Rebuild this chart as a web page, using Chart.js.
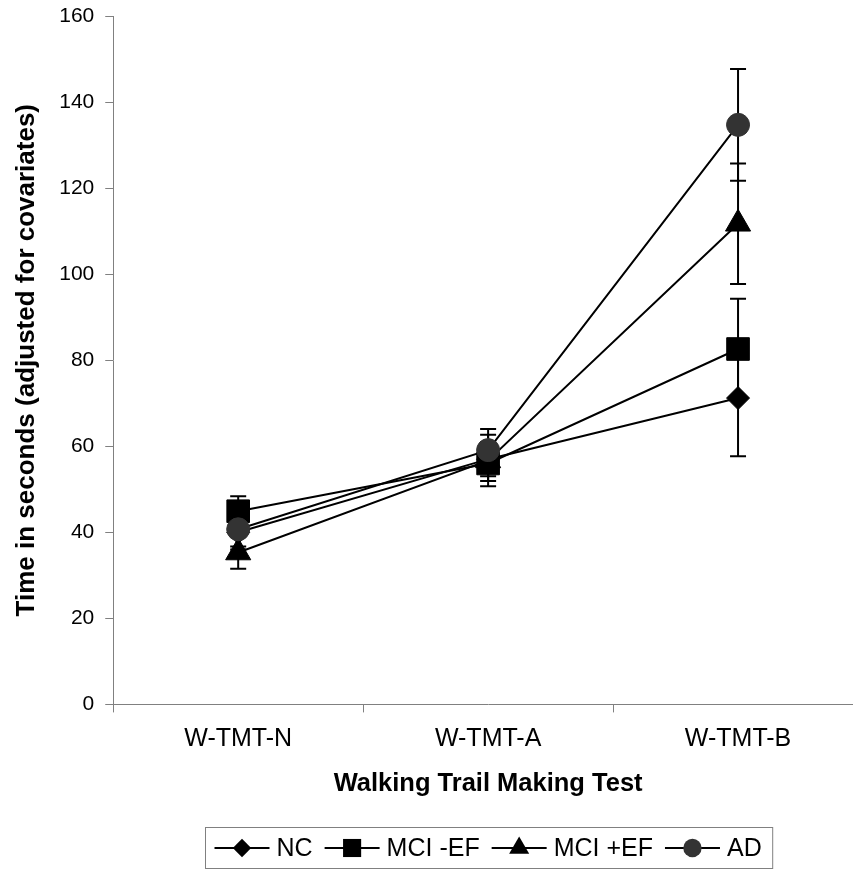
<!DOCTYPE html>
<html lang="en">
<head>
    <meta charset="UTF-8">
    <title>Walking Trail Making Test</title>
    <script src="https://cdn.jsdelivr.net/npm/chart.js"></script>
    <style>
        body { margin: 0; padding: 0; background: #fff; overflow: hidden; }
        #wrap { width: 870px; height: 869px; }
    </style>
</head>
<body>
    <div id="wrap">
        <canvas id="chart" width="870" height="869"></canvas>
    </div>

    <script>
        let categories = ["W-TMT-N", "W-TMT-A", "W-TMT-B"];
        let yTicks = [0, 20, 40, 60, 80, 100, 120, 140, 160];

        let seriesNames = ["NC", "MCI -EF", "MCI +EF", "AD"];
        let ncValues = [40, 57, 71.2];
        let ncErrors = [4, 4, 13.5];
        let mciNoEfValues = [44.9, 56, 82.6];
        let mciNoEfErrors = [3.5, 4.1, 11.7];
        let mciEfValues = [35.3, 56.7, 111.7];
        let mciEfErrors = [3.8, 6, 14];
        let adValues = [40.7, 59.1, 134.7];
        let adErrors = [4, 4.9, 13];

        const FONT = "'Liberation Sans', Arial, sans-serif";
        const AXIS_GREY = "#808080";

        // marker look per series (same order as seriesNames)
        const markers = [
            { style: "rectRot", radius: 11.5, color: "#000" },
            { style: "rect", radius: 16, color: "#000" },
            { style: "triangle", radius: 14.5, color: "#000" },
            { style: "circle", radius: 11.5, color: "#333333" }
        ];

        let allValues = [ncValues, mciNoEfValues, mciEfValues, adValues];
        let allErrors = [ncErrors, mciNoEfErrors, mciEfErrors, adErrors];

        // error bars drawn under the markers
        const errorBars = {
            id: "errorBars",
            beforeDatasetsDraw(chart) {
                const ctx = chart.ctx;
                const yScale = chart.scales.y;
                ctx.save();
                ctx.strokeStyle = "#000";
                ctx.lineWidth = 2;
                chart.data.datasets.forEach((ds, di) => {
                    const meta = chart.getDatasetMeta(di);
                    ds.data.forEach((v, i) => {
                        const e = ds.errors[i];
                        const x = meta.data[i].x;
                        const top = yScale.getPixelForValue(v + e);
                        const bot = yScale.getPixelForValue(v - e);
                        ctx.beginPath();
                        ctx.moveTo(x, top); ctx.lineTo(x, bot);
                        ctx.moveTo(x - 8, top); ctx.lineTo(x + 8, top);
                        ctx.moveTo(x - 8, bot); ctx.lineTo(x + 8, bot);
                        ctx.stroke();
                    });
                });
                ctx.restore();
            }
        };

        function drawMarker(ctx, style, x, y, r, color) {
            ctx.fillStyle = color;
            ctx.beginPath();
            if (style === "rectRot") {
                ctx.moveTo(x, y - r); ctx.lineTo(x + r, y); ctx.lineTo(x, y + r); ctx.lineTo(x - r, y);
            } else if (style === "rect") {
                let s = r * Math.SQRT1_2;
                ctx.rect(x - s, y - s, 2 * s, 2 * s);
            } else if (style === "triangle") {
                ctx.moveTo(x, y - r);
                ctx.lineTo(x + r * 0.866, y + r / 2);
                ctx.lineTo(x - r * 0.866, y + r / 2);
            } else {
                ctx.arc(x, y, r, 0, Math.PI * 2);
            }
            ctx.closePath();
            ctx.fill();
        }

        // boxed legend with line-through-marker symbols
        const boxLegend = {
            id: "boxLegend",
            afterDraw(chart) {
                const ctx = chart.ctx;
                const area = chart.chartArea;
                ctx.save();
                ctx.font = "25px " + FONT;
                const lineLen = 55, textGap = 7, itemGap = 12, padL = 9, padR = 11;
                let total = padL + padR;
                seriesNames.forEach((n, i) => {
                    total += lineLen + textGap + ctx.measureText(n).width;
                    if (i < seriesNames.length - 1) total += itemGap;
                });
                const left = Math.round((area.left + area.right) / 2 - total / 2) + 0.5;
                const top = 827.5, height = 41;
                ctx.strokeStyle = AXIS_GREY;
                ctx.lineWidth = 1;
                ctx.strokeRect(left, top, total, height);

                const cy = top + height / 2;
                let x = left + padL;
                seriesNames.forEach((n, i) => {
                    ctx.strokeStyle = "#000";
                    ctx.lineWidth = 2;
                    ctx.beginPath();
                    ctx.moveTo(x, cy); ctx.lineTo(x + lineLen, cy);
                    ctx.stroke();
                    const m = markers[i];
                    drawMarker(ctx, m.style, x + lineLen / 2, cy, m.radius * 0.8, m.color);
                    x += lineLen + textGap;
                    ctx.fillStyle = "#000";
                    ctx.textBaseline = "middle";
                    ctx.textAlign = "left";
                    ctx.fillText(n, x, cy + 1);
                    x += ctx.measureText(n).width + itemGap;
                });
                ctx.restore();
            }
        };

        let datasets = seriesNames.map((name, i) => ({
            label: name,
            data: allValues[i],
            errors: allErrors[i],
            borderColor: "#000",
            borderWidth: 2,
            backgroundColor: markers[i].color,
            pointStyle: markers[i].style,
            pointRadius: markers[i].radius,
            pointBackgroundColor: markers[i].color,
            pointBorderColor: markers[i].color,
            pointBorderWidth: 1,
            fill: false,
            tension: 0,
            order: seriesNames.length - 1 - i
        }));

        let chart = new Chart(document.getElementById("chart").getContext("2d"), {
            type: "line",
            data: { labels: categories, datasets: datasets },
            options: {
                responsive: false,
                animation: false,
                devicePixelRatio: 1,
                layout: { autoPadding: false, padding: { left: 4, right: 7, top: 16, bottom: 66 } },
                plugins: {
                    legend: { display: false },
                    tooltip: { enabled: false }
                },
                scales: {
                    x: {
                        type: "category",
                        offset: true,
                        grid: { offset: true, drawOnChartArea: false, tickLength: 8, color: AXIS_GREY },
                        border: { display: true, color: AXIS_GREY, width: 1 },
                        ticks: { color: "#000", font: { family: FONT, size: 25 }, padding: 12, maxRotation: 0, autoSkip: false },
                        title: {
                            display: true,
                            text: "Walking Trail Making Test",
                            color: "#000",
                            font: { family: FONT, size: 25.5, weight: "bold" },
                            padding: { top: 2, bottom: 4 }
                        }
                    },
                    y: {
                        min: yTicks[0],
                        max: yTicks[yTicks.length - 1],
                        afterBuildTicks: (scale) => { scale.ticks = yTicks.map(v => ({ value: v })); },
                        afterFit: (scale) => { scale.paddingTop = 4; },
                        grid: { drawOnChartArea: false, tickLength: 8, color: AXIS_GREY },
                        border: { display: true, color: AXIS_GREY, width: 1 },
                        ticks: { color: "#000", font: { family: FONT, size: 21 }, padding: 11 },
                        title: {
                            display: true,
                            text: "Time in seconds (adjusted for covariates)",
                            color: "#000",
                            font: { family: FONT, size: 26, weight: "bold" },
                            padding: { top: 7, bottom: 6 }
                        }
                    }
                }
            },
            plugins: [errorBars, boxLegend]
        });
    </script>
</body>
</html>
